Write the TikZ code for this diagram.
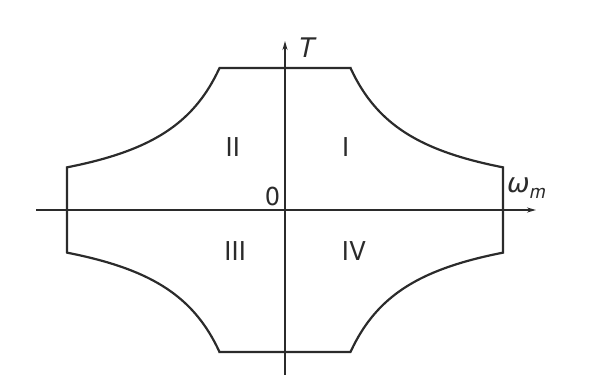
\documentclass[tikz,border=0pt]{standalone}
\usepackage{fontspec}
\setmainfont{TeX Gyre Heros}
\newfontfamily\greekfont{DejaVu Sans}
\usetikzlibrary{arrows.meta}
\definecolor{ink}{HTML}{2B2B2B}
\begin{document}
\begin{tikzpicture}[x=1pt,y=1pt,
  axis/.style={draw=ink,line width=1.6pt},
  envelope/.style={draw=ink,line width=2.2pt,line join=miter},
  qlabel/.style={text=ink,font=\fontsize{26}{30}\selectfont,inner sep=0pt},
  alabel/.style={text=ink,font=\fontsize{27}{30}\selectfont,inner sep=0pt}]
\useasboundingbox (0,0) rectangle (592,385);
\begin{scope}[shift={(285,175)}]
  % axes
  \coordinate (wl) at (-249,0);
  \coordinate (wr) at (251,0);
  \coordinate (tb) at (0,-165);
  \coordinate (tt) at (0,169);
  \draw[axis,-{Stealth[length=9pt,width=5pt]}] (wl) -- (wr);
  \draw[axis,-{Stealth[length=9pt,width=5pt]}] (tb) -- (tt);
  % torque-speed envelope (constant torque, then constant power)
  \draw[envelope]
    (-218,-42.66) -- (-218,42.66)
    -- plot[domain=-218:-65.5,samples=60,smooth] (\x,{-9300/\x})
    -- (65.5,142)
    -- plot[domain=65.5:218,samples=60,smooth] (\x,{9300/\x})
    -- (218,-42.66)
    -- plot[domain=218:65.5,samples=60,smooth] (\x,{-9300/\x})
    -- (-65.5,-142)
    -- plot[domain=-65.5:-218,samples=60,smooth] (\x,{9300/\x})
    -- cycle;
  % labels
  \node[qlabel] (q1) at (60.5,63) {I};
  \node[qlabel] (q2) at (-52.5,63) {II};
  \node[qlabel] (q3) at (-50,-41) {III};
  \node[qlabel] (q4) at (69,-41) {IV};
  \node[qlabel] (o) at (-12.5,13.5) {0};
  \node[alabel] (T) at (21,162) {\itshape T};
  \node[alabel,anchor=base west] (w) at (222,-18+35) {{\greekfont\itshape ω}\raisebox{-6pt}{\fontsize{19}{21}\selectfont\itshape m}};
\end{scope}
\end{tikzpicture}
\end{document}
